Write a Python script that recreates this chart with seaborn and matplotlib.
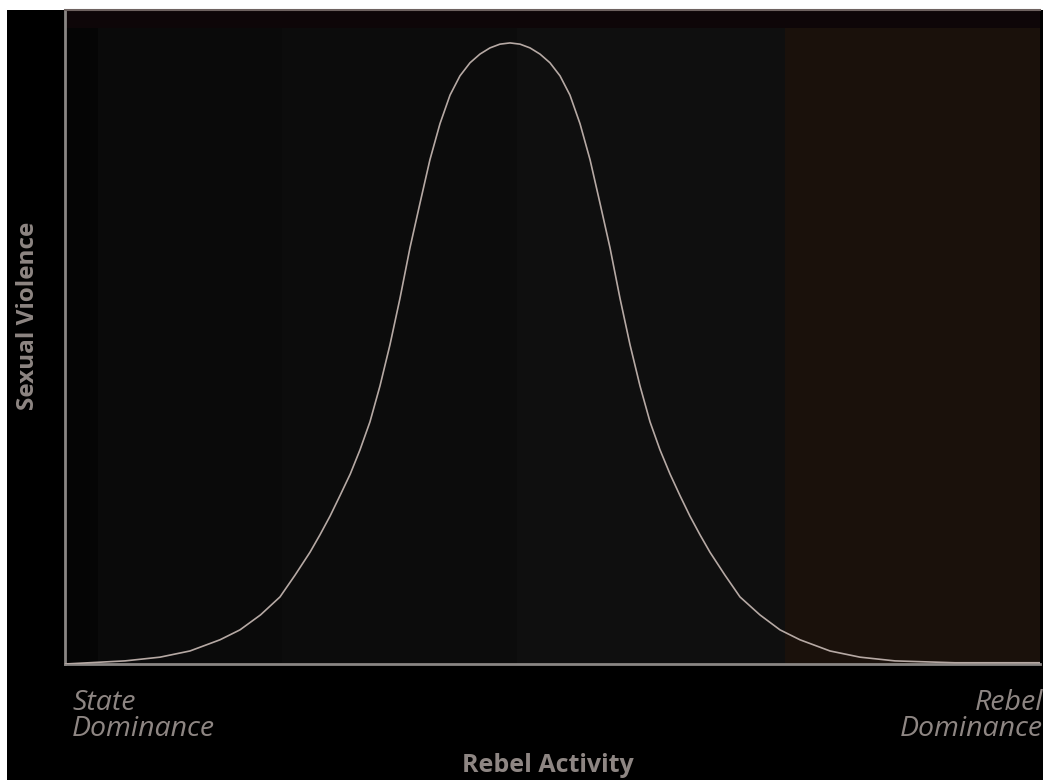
import numpy as np
import pandas as pd
import matplotlib
matplotlib.use('Agg')
import matplotlib.pyplot as plt
from matplotlib.patches import Rectangle
import seaborn as sns

# valores (x: atividade rebelde 0-100, y: violência sexual, pico = 100)
rebel_activity = [0.0, 6.15, 9.74, 12.82, 15.90, 17.95, 20.05, 22.05, 23.59, 25.13,
                  26.15, 27.18, 28.20, 29.26, 30.26, 31.28, 32.31, 33.33, 34.36, 35.38,
                  36.41, 37.43, 38.46, 39.49, 40.51, 41.54, 42.56, 43.59, 44.61, 45.64,
                  46.67, 47.69, 48.72, 49.74, 50.77, 51.79, 52.82, 53.85, 54.87, 55.90,
                  56.92, 57.95, 58.97, 60.00, 61.02, 62.05, 63.08, 64.10, 65.13, 66.15,
                  67.69, 69.23, 71.28, 73.33, 75.38, 78.46, 81.54, 85.13, 91.28, 100.0]
sexual_violence = [0.0, 0.5, 1.1, 2.1, 3.9, 5.5, 7.9, 10.8, 14.3, 18.0,
                   20.8, 23.8, 27.1, 30.6, 34.5, 39.0, 44.8, 51.4, 58.9, 67.0,
                   74.2, 81.2, 87.0, 91.6, 94.7, 96.8, 98.2, 99.2, 99.8, 100.0,
                   99.8, 99.2, 98.2, 96.8, 94.7, 91.6, 87.0, 81.2, 74.2, 67.0,
                   58.9, 51.4, 44.8, 39.0, 34.5, 30.6, 27.1, 23.8, 20.8, 18.0,
                   14.3, 10.8, 7.9, 5.5, 3.9, 2.1, 1.1, 0.5, 0.2, 0.2]

# faixas de fundo
band_edges = [0.0, 3.4, 22.3, 46.4, 73.8, 100.0]
band_colors = ['#050505', '#0a0a0a', '#0c0c0c', '#0f0f0f', '#1a110b']

x_label = 'Rebel Activity'
y_label = 'Sexual Violence'
left_note = 'State\nDominance'
right_note = 'Rebel\nDominance'

sns.set_theme(style='dark')
plt.rcParams['font.family'] = ['Open Sans', 'DejaVu Sans']

fig = plt.figure(figsize=(10.43, 7.80), dpi=100, facecolor='white')
# retângulo preto que cobre quase toda a figura
fig.patches.append(Rectangle((7 / 1043, 0), 1 - 7 / 1043, 770 / 780,
                             transform=fig.transFigure, facecolor='black',
                             edgecolor='none', zorder=-10))

ax = fig.add_axes([65 / 1043, 116 / 780, 975 / 1043, 654 / 780])
ax.set_facecolor('black')

for i, c in enumerate(band_colors):
    ax.axvspan(band_edges[i], band_edges[i + 1], color=c, lw=0, zorder=0)
ax.axhspan(102.4, 105.3, color='#0e0608', lw=0, zorder=0.5)

df = pd.DataFrame({'x': rebel_activity, 'y': sexual_violence})
sns.lineplot(data=df, x='x', y='y', ax=ax, color='#b6a9a4', linewidth=1.2,
             sort=False, zorder=3)

ax.set_xlim(0, 100)
ax.set_ylim(0, 105.3)
ax.set_xticks([])
ax.set_yticks([])
ax.set_xlabel('')
ax.set_ylabel('')
ax.grid(False)

for side in ['left', 'bottom']:
    ax.spines[side].set_visible(True)
    ax.spines[side].set_color('#8a8684')
    ax.spines[side].set_linewidth(2)
ax.spines['top'].set_visible(True)
ax.spines['top'].set_color('#6e6260')
ax.spines['top'].set_linewidth(1.5)
ax.spines['right'].set_visible(False)

txt_color = '#8e8683'
fig.text(28 / 1043, 1 - 316 / 780, y_label, rotation=90, ha='center', va='center',
         fontsize=17.5, fontweight='bold', color=txt_color)
fig.text(548 / 1043, 1 - 766 / 780, x_label, ha='center', va='center',
         fontsize=18, fontweight='bold', color=txt_color)
fig.text(72 / 1043, 1 - 716 / 780, left_note, ha='left', va='center',
         fontsize=20.5, fontstyle='italic', color=txt_color, linespacing=0.95)
fig.text(1043 / 1043, 1 - 716 / 780, right_note, ha='right', va='center',
         fontsize=20.5, fontstyle='italic', color=txt_color, linespacing=0.95,
         multialignment='right')

fig.savefig('out.png', dpi=100, facecolor='white')
